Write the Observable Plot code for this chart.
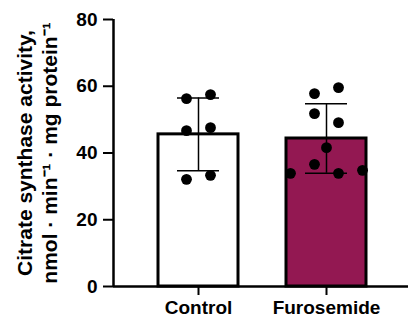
<!DOCTYPE html>
<html>
<head>
<meta charset="utf-8">
<script src="https://cdn.jsdelivr.net/npm/d3@7"></script>
<script src="https://cdn.jsdelivr.net/npm/@observablehq/plot@0.6"></script>
<style>
  html, body { margin: 0; padding: 0; background: #fff; }
</style>
</head>
<body>
<div id="chart"></div>
<script>
const groups = ["Control", "Furosemide"];
const controlValues = [56.3, 57.5, 46.7, 47.6, 32.1, 33.3];
const controlLanes = [-1, 1, -1, 1, -1, 1];
const furosemideValues = [57.8, 59.6, 51.8, 49.1, 41.6, 36.6, 33.9, 33.9, 34.8];
const furosemideLanes = [-1, 1, -1, 1, 0, -1, 1, -3, 3];
const yTicks = [0, 20, 40, 60, 80];
const fills = ["#ffffff", "#931852"];
const yLabel = "Citrate synthase activity,\nnmol · min⁻¹ · mg protein⁻¹";

const series = [
  {values: controlValues, lanes: controlLanes},
  {values: furosemideValues, lanes: furosemideLanes}
];
const summary = series.map((s, i) => ({
  i, group: groups[i], fill: fills[i],
  mean: d3.mean(s.values), sd: d3.deviation(s.values)
}));
const points = series.flatMap((s, i) => s.values.map((v, j) => ({i, value: v, lane: s.lanes[j]})));

const halfBar = 40 / 128, halfCap = 21 / 128, laneW = 12 / 128;
const xMin = -85 / 128, xMax = 210 / 128;

const chart = Plot.plot({
  width: 408, height: 324,
  marginLeft: 113, marginRight: 0, marginTop: 19, marginBottom: 38,
  style: {fontFamily: "'Liberation Sans', Arial, sans-serif", fontWeight: "bold", fontSize: "19px", color: "#000", background: "#fff", overflow: "visible"},
  x: {type: "linear", domain: [xMin, xMax]},
  y: {domain: [0, 80]},
  marks: [
    Plot.rectY(summary, {x1: d => d.i - halfBar, x2: d => d.i + halfBar, y1: 0, y2: "mean", fill: "fill", stroke: "#000", strokeWidth: 3}),
    Plot.ruleX(summary, {x: "i", y1: d => d.mean - d.sd, y2: d => d.mean + d.sd, stroke: "#000", strokeWidth: 1.5}),
    Plot.ruleY(summary, {y: d => d.mean + d.sd, x1: d => d.i - halfCap, x2: d => d.i + halfCap, stroke: "#000", strokeWidth: 1.5}),
    Plot.ruleY(summary, {y: d => d.mean - d.sd, x1: d => d.i - halfCap, x2: d => d.i + halfCap, stroke: "#000", strokeWidth: 1.5}),
    Plot.dot(points, {x: d => d.i + d.lane * laneW, y: "value", r: 5.4, fill: "#000"}),
    Plot.ruleY([0], {stroke: "#000", strokeWidth: 2.5}),
    Plot.ruleX([xMin], {y1: 0, y2: 80, stroke: "#000", strokeWidth: 2.5}),
    Plot.axisY({ticks: yTicks, tickSize: 10, tickPadding: 6, strokeWidth: 2, stroke: "#000", fill: "#000", label: null, fontSize: 19, fontWeight: "bold"}),
    Plot.axisX({ticks: [0, 1], tickFormat: i => groups[i], tickSize: 9, tickPadding: 5, strokeWidth: 2, stroke: "#000", fill: "#000", label: null, fontSize: 19, fontWeight: "bold"}),
    Plot.text([yLabel], {text: d => d, frameAnchor: "left", textAnchor: "middle", lineAnchor: "middle", rotate: -90, dx: -77, lineHeight: 1.2, fontSize: 21, fontWeight: "bold", fill: "#000"})
  ]
});
document.getElementById("chart").appendChild(chart);
</script>
</body>
</html>
